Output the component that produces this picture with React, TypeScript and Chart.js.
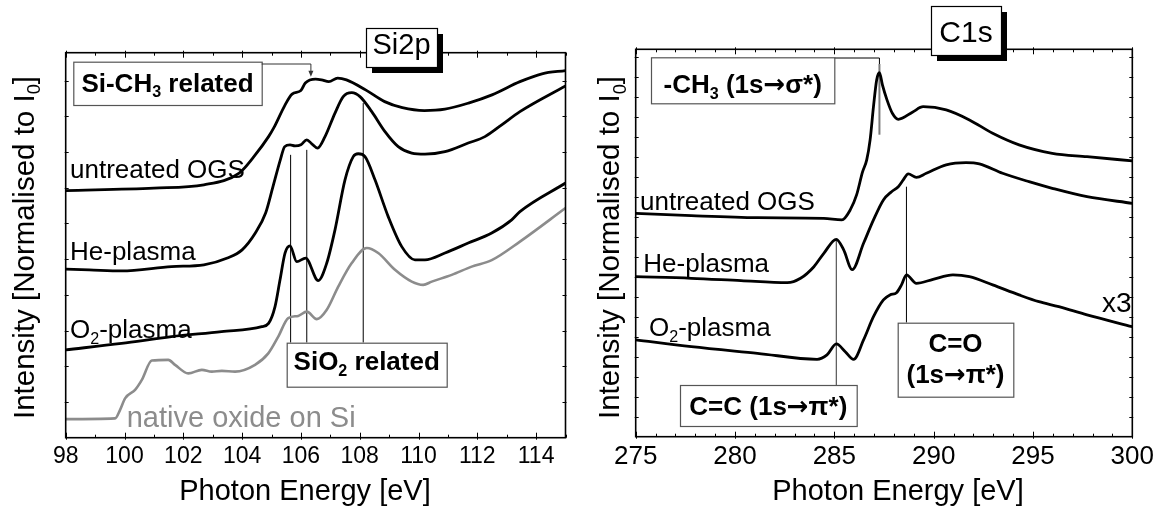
import React, { useEffect, useRef } from "react";
import { Chart, registerables } from "chart.js";

Chart.register(...registerables);

const FONT = '"Liberation Sans", Arial, Helvetica, sans-serif';
const ARROW_FONT = '"DejaVu Sans", "Liberation Sans", sans-serif';

// ---------------- Si2p panel data ----------------
const SI_X_TICKS = [98, 100, 102, 104, 106, 108, 110, 112, 114];
const SI_X_MIN = 98;
const SI_X_MAX = 115;
const SI_Y_MAX = 10.78;

const SI_UNTREATED_E = [98.0, 101.0, 102.7, 103.9, 104.4, 104.9, 105.1, 105.45, 105.7, 106.0, 106.15, 106.5, 106.7, 106.95, 107.25, 107.55, 108.2, 108.85, 109.45, 110.2, 110.9, 111.7, 112.5, 113.45, 114.2, 115.0];
const SI_UNTREATED_I = [6.92, 6.99, 7.08, 7.41, 7.87, 8.43, 8.71, 9.3, 9.62, 9.72, 9.93, 10.04, 10.02, 9.97, 10.07, 10.02, 9.74, 9.41, 9.24, 9.16, 9.2, 9.37, 9.6, 9.97, 10.19, 10.28];

const SI_HE_E = [98.0, 98.8, 99.9, 101.6, 102.7, 103.5, 104.0, 104.45, 104.8, 105.05, 105.3, 105.45, 105.63, 105.8, 106.0, 106.2, 106.37, 106.57, 106.82, 107.16, 107.44, 107.73, 108.01, 108.41, 108.86, 109.31, 109.77, 110.22, 110.9, 111.69, 112.26, 112.83, 113.45, 115.0];
const SI_HE_I = [4.72, 4.7, 4.67, 4.79, 4.84, 5.03, 5.26, 5.73, 6.29, 7.03, 7.78, 8.15, 8.2, 8.17, 8.2, 8.34, 8.23, 8.11, 8.43, 9.09, 9.55, 9.66, 9.55, 9.13, 8.57, 8.15, 7.97, 7.94, 8.01, 8.25, 8.43, 8.76, 9.13, 9.85];

const SI_O2_E = [98.0, 99.9, 101.6, 103.3, 104.67, 104.9, 105.12, 105.29, 105.46, 105.63, 105.86, 106.16, 106.59, 106.88, 107.16, 107.5, 107.78, 107.95, 108.18, 108.52, 108.97, 109.43, 109.88, 110.22, 110.9, 111.69, 112.49, 113.17, 113.45, 115.0];
const SI_O2_I = [2.46, 2.64, 2.83, 2.97, 3.11, 3.2, 3.67, 4.42, 5.17, 5.37, 4.93, 5.03, 4.4, 4.89, 5.82, 7.22, 7.87, 7.95, 7.87, 7.22, 6.19, 5.35, 4.98, 4.98, 5.17, 5.45, 5.73, 6.1, 6.33, 7.13];

const SI_NATIVE_E = [98.0, 99.68, 99.85, 100.02, 100.36, 100.59, 100.93, 101.49, 101.72, 102.17, 102.63, 102.97, 103.31, 103.76, 104.44, 104.89, 105.23, 105.57, 105.91, 106.2, 106.54, 106.88, 107.27, 107.73, 108.24, 108.63, 109.2, 109.77, 110.16, 110.45, 111.13, 111.81, 112.49, 113.45, 115.0];
const SI_NATIVE_I = [0.52, 0.54, 0.78, 1.1, 1.34, 1.62, 2.16, 2.18, 2.04, 1.8, 1.9, 1.85, 1.87, 1.85, 2.04, 2.36, 2.83, 3.35, 3.41, 3.53, 3.32, 3.58, 4.23, 4.89, 5.31, 5.17, 4.7, 4.37, 4.28, 4.37, 4.56, 4.79, 4.97, 5.49, 6.43];

// ---------------- C1s panel data ----------------
const C_X_TICKS = [275, 280, 285, 290, 295, 300];
const C_X_MIN = 275;
const C_X_MAX = 300;
const C_Y_MAX = 19.37;

const C_UNTREATED_E = [275, 277.8, 281.13, 284.47, 285.38, 285.8, 286.12, 286.42, 286.63, 286.8, 286.97, 287.13, 287.27, 287.42, 287.65, 287.92, 288.22, 288.95, 289.47, 290.63, 291.8, 292.97, 294.3, 295.97, 297.72, 300];
const C_UNTREATED_I = [11.17, 11.05, 10.95, 10.92, 10.84, 11.34, 12.09, 13.24, 13.84, 14.84, 16.5, 17.84, 18.2, 17.59, 16.84, 16.17, 15.87, 16.24, 16.5, 16.34, 15.84, 15.17, 14.59, 14.17, 14.0, 13.79];

const C_HE_E = [275, 277.8, 280.3, 282.63, 283.3, 283.97, 284.47, 285.1, 285.47, 285.9, 286.47, 286.97, 287.47, 287.88, 288.22, 288.47, 288.72, 289.13, 289.63, 290.63, 291.63, 292.3, 293.47, 294.8, 295.97, 297.72, 300];
const C_HE_I = [8.0, 7.92, 7.8, 7.7, 7.92, 8.5, 9.17, 9.87, 9.34, 8.35, 9.67, 10.84, 11.84, 12.25, 12.5, 12.84, 13.14, 12.97, 13.17, 13.59, 13.7, 13.64, 13.17, 12.75, 12.42, 12.0, 11.67];

const C_O2_E = [275, 277.8, 281.13, 284.13, 284.63, 285.1, 285.55, 285.97, 286.47, 286.97, 287.47, 287.8, 288.13, 288.38, 288.63, 289.13, 289.97, 290.97, 291.8, 292.97, 294.3, 295.3, 296.3, 297.72, 300];
const C_O2_I = [4.84, 4.5, 4.17, 3.87, 4.09, 4.64, 4.25, 3.87, 4.84, 6.0, 6.84, 7.09, 7.2, 7.59, 8.09, 7.67, 7.87, 8.09, 8.0, 7.59, 7.09, 6.75, 6.5, 6.09, 5.5];

// ---------------- drawing helpers ----------------
type Seg = { t: string; sub?: boolean; font?: string };

function segFont(s: Seg, size: number, weight: string) {
  const fs = s.sub ? size * 0.62 : size;
  return `${weight} ${fs}px ${s.font || FONT}`;
}

function richWidth(ctx: CanvasRenderingContext2D, segs: Seg[], size: number, weight: string) {
  let w = 0;
  for (const s of segs) {
    ctx.font = segFont(s, size, weight);
    w += ctx.measureText(s.t).width;
  }
  return w;
}

function drawRich(
  ctx: CanvasRenderingContext2D,
  segs: Seg[],
  x: number,
  y: number,
  size: number,
  opts: { weight?: string; color?: string; align?: "left" | "center" | "right" } = {}
) {
  const weight = opts.weight || "normal";
  const w = richWidth(ctx, segs, size, weight);
  let cx = opts.align === "center" ? x - w / 2 : opts.align === "right" ? x - w : x;
  ctx.save();
  ctx.fillStyle = opts.color || "#000";
  ctx.textBaseline = "alphabetic";
  ctx.textAlign = "left";
  for (const s of segs) {
    ctx.font = segFont(s, size, weight);
    ctx.fillText(s.t, cx, s.sub ? y + size * 0.22 : y);
    cx += ctx.measureText(s.t).width;
  }
  ctx.restore();
}

function drawBox(ctx: CanvasRenderingContext2D, x0: number, y0: number, x1: number, y1: number, stroke: string, shadow = false) {
  ctx.save();
  if (shadow) {
    ctx.fillStyle = "#000";
    ctx.fillRect(x0 + 6, y0 + 6, x1 - x0, y1 - y0);
  }
  ctx.fillStyle = "#fff";
  ctx.fillRect(x0, y0, x1 - x0, y1 - y0);
  ctx.strokeStyle = stroke;
  ctx.lineWidth = 1.2;
  ctx.strokeRect(x0 + 0.5, y0 + 0.5, x1 - x0, y1 - y0);
  ctx.restore();
}

function drawLine(ctx: CanvasRenderingContext2D, pts: number[][], color: string, width: number) {
  ctx.save();
  ctx.strokeStyle = color;
  ctx.lineWidth = width;
  ctx.beginPath();
  pts.forEach((p, i) => (i === 0 ? ctx.moveTo(p[0], p[1]) : ctx.lineTo(p[0], p[1])));
  ctx.stroke();
  ctx.restore();
}

function drawFrame(chart: any, majors: number[], yStep: number) {
  const { ctx, chartArea: a, scales } = chart;
  const xs = scales.x;
  const ys = scales.y;
  ctx.save();
  ctx.strokeStyle = "#000";
  ctx.lineWidth = 1;
  ctx.beginPath();
  for (let v = xs.min; v <= xs.max + 1e-9; v += 1) {
    const px = Math.round(xs.getPixelForValue(v)) + 0.5;
    const major = majors.includes(Math.round(v));
    const L = major ? 5 : 3;
    ctx.moveTo(px, a.bottom + (major ? 2 : 0));
    ctx.lineTo(px, a.bottom - L);
    ctx.moveTo(px, a.top - (major ? 2 : 0));
    ctx.lineTo(px, a.top + L);
  }
  for (let v = ys.min + yStep; v < ys.max - 0.05; v += yStep) {
    const py = Math.round(ys.getPixelForValue(v)) + 0.5;
    ctx.moveTo(a.left - 1, py);
    ctx.lineTo(a.left + 3, py);
    ctx.moveTo(a.right + 1, py);
    ctx.lineTo(a.right - 3, py);
  }
  ctx.stroke();
  ctx.lineWidth = 1.6;
  ctx.strokeRect(a.left, a.top, a.right - a.left, a.bottom - a.top);
  ctx.restore();
}

function drawYTitle(ctx: CanvasRenderingContext2D, baseX: number, centerY: number) {
  ctx.save();
  ctx.translate(baseX, centerY);
  ctx.rotate(-Math.PI / 2);
  drawRich(ctx, [{ t: "Intensity [Normalised to I" }, { t: "0", sub: true }, { t: "]" }], 0, 0, 29.5, { align: "center" });
  ctx.restore();
}

function series(e: number[], v: number[], color: string, width = 2.8) {
  return {
    data: e.map((x, i) => ({ x, y: v[i] })),
    borderColor: color,
    borderWidth: width,
    pointRadius: 0,
    fill: false,
    cubicInterpolationMode: "monotone" as const,
  };
}

function baseOptions(xmin: number, xmax: number, ymax: number, ticks: number[], tickSize: number, pad: any, axisH: number) {
  return {
    responsive: false,
    animation: false as const,
    events: [] as any[],
    layout: { padding: pad },
    plugins: { legend: { display: false }, tooltip: { enabled: false } },
    scales: {
      x: {
        type: "linear" as const,
        min: xmin,
        max: xmax,
        afterBuildTicks: (s: any) => {
          s.ticks = ticks.map((v) => ({ value: v }));
        },
        afterFit: (s: any) => {
          s.height = axisH;
        },
        grid: { display: false, drawTicks: false },
        border: { display: false },
        ticks: {
          autoSkip: false,
          maxRotation: 0,
          padding: 5,
          color: "#000",
          font: { family: FONT, size: tickSize },
          callback: (v: any) => String(v),
        },
      },
      y: { type: "linear" as const, display: false, min: 0, max: ymax },
    },
  };
}

// ---------------- Si2p panel ----------------
const SI_BOX_TOP = 342.7;

const siPlugin = {
  id: "siDecor",
  beforeDatasetsDraw(chart: any) {
    const { ctx, scales } = chart;
    const x = scales.x;
    const y = scales.y;
    drawLine(ctx, [[x.getPixelForValue(105.65), y.getPixelForValue(7.92)], [x.getPixelForValue(105.65), SI_BOX_TOP]], "#000", 1);
    drawLine(ctx, [[x.getPixelForValue(106.2), y.getPixelForValue(8.06)], [x.getPixelForValue(106.2), SI_BOX_TOP]], "#000", 1);
    drawLine(ctx, [[x.getPixelForValue(108.12), y.getPixelForValue(9.37)], [x.getPixelForValue(108.12), SI_BOX_TOP]], "#000", 1);
  },
  afterDatasetsDraw(chart: any) {
    const { ctx, scales } = chart;
    const x = scales.x;
    const y = scales.y;
    drawFrame(chart, SI_X_TICKS, 1);

    drawBox(ctx, 366, 28, 437, 67, "#000", true);
    drawRich(ctx, [{ t: "Si2p" }], 401.5, 53.5, 29, { align: "center" });

    drawBox(ctx, 73.3, 61.7, 261.7, 105, "#555");
    drawRich(ctx, [{ t: "Si-CH" }, { t: "3", sub: true }, { t: " related" }], 167.5, 91.7, 26, { weight: "bold", align: "center" });

    const ax = x.getPixelForValue(106.34);
    const ay = y.getPixelForValue(10.11);
    drawLine(ctx, [[261.7, 64], [ax, 64], [ax, ay - 5]], "#333", 1);
    ctx.save();
    ctx.fillStyle = "#333";
    ctx.beginPath();
    ctx.moveTo(ax - 2.5, ay - 6);
    ctx.lineTo(ax + 2.5, ay - 6);
    ctx.lineTo(ax, ay);
    ctx.closePath();
    ctx.fill();
    ctx.restore();

    drawBox(ctx, 286.7, SI_BOX_TOP, 446.7, 386.7, "#555");
    drawRich(ctx, [{ t: "SiO" }, { t: "2", sub: true }, { t: " related" }], 366.7, 370, 26, { weight: "bold", align: "center" });

    drawRich(ctx, [{ t: "untreated OGS" }], 70, 178.3, 26);
    drawRich(ctx, [{ t: "He-plasma" }], 70, 260, 26);
    drawRich(ctx, [{ t: "O" }, { t: "2", sub: true }, { t: "-plasma" }], 70, 338, 26);
    drawRich(ctx, [{ t: "native oxide on Si" }], 126.7, 426.7, 29, { color: "#8c8c8c" });

    drawYTitle(ctx, 33.8, 247.5);
    drawRich(ctx, [{ t: "Photon Energy [eV]" }], 305, 500, 29, { align: "center" });
  },
};

function buildSi() {
  return {
    type: "line" as const,
    data: {
      datasets: [
        series(SI_UNTREATED_E, SI_UNTREATED_I, "#000"),
        series(SI_HE_E, SI_HE_I, "#000"),
        series(SI_O2_E, SI_O2_I, "#000"),
        series(SI_NATIVE_E, SI_NATIVE_I, "#8c8c8c", 2.6),
      ],
    },
    options: baseOptions(SI_X_MIN, SI_X_MAX, SI_Y_MAX, SI_X_TICKS, 23, { left: 65.7, top: 52.7, right: 594 - 565.5, bottom: 0 }, 508 - 437.7),
    plugins: [siPlugin],
  };
}

// ---------------- C1s panel ----------------
const OX = 594; // page x of the right canvas

const cPlugin = {
  id: "cDecor",
  beforeDatasetsDraw(chart: any) {
    const { ctx, scales } = chart;
    const x = scales.x;
    const y = scales.y;
    const xc = x.getPixelForValue(287.27);
    drawLine(ctx, [[834.3 - OX, 58], [xc, 58], [xc, 64]], "#000", 1);
    drawLine(ctx, [[xc, 64], [xc, y.getPixelForValue(15.1)]], "#7a7a7a", 2);
    const xcc = x.getPixelForValue(285.1);
    drawLine(ctx, [[xcc, y.getPixelForValue(9.83)], [xcc, 385]], "#555", 1.2);
    const xco = x.getPixelForValue(288.63);
    drawLine(ctx, [[xco, y.getPixelForValue(12.5)], [xco, 322.7]], "#000", 1);
  },
  afterDatasetsDraw(chart: any) {
    const { ctx } = chart;
    drawFrame(chart, C_X_TICKS, 1);

    drawBox(ctx, 931 - OX, 6, 1001 - OX, 55, "#000", true);
    drawRich(ctx, [{ t: "C1s" }], 966 - OX, 41.7, 30, { align: "center" });

    const ARROW: Seg = { t: "\u2192", font: ARROW_FONT };
    drawBox(ctx, 651 - OX, 57.3, 834.3 - OX, 103.3, "#555");
    drawRich(ctx, [{ t: "-CH" }, { t: "3", sub: true }, { t: " (1s" }, ARROW, { t: "\u03c3*)" }], 742.7 - OX, 93, 26, { weight: "bold", align: "center" });

    drawBox(ctx, 680 - OX, 385, 856.7 - OX, 426, "#555");
    drawRich(ctx, [{ t: "C=C (1s" }, ARROW, { t: "\u03c0*)" }], 768.3 - OX, 415, 26, { weight: "bold", align: "center" });

    drawBox(ctx, 897.7 - OX, 322.7, 1013.3 - OX, 396.7, "#555");
    drawRich(ctx, [{ t: "C=O" }], 955.5 - OX, 351.7, 26, { weight: "bold", align: "center" });
    drawRich(ctx, [{ t: "(1s" }, ARROW, { t: "\u03c0*)" }], 955.5 - OX, 383, 26, { weight: "bold", align: "center" });

    drawRich(ctx, [{ t: "untreated OGS" }], 640 - OX, 210, 26);
    drawRich(ctx, [{ t: "He-plasma" }], 643.3 - OX, 271.7, 26);
    drawRich(ctx, [{ t: "O" }, { t: "2", sub: true }, { t: "-plasma" }], 649 - OX, 336, 26);
    drawRich(ctx, [{ t: "x3" }], 1102 - OX, 311.7, 28);

    drawYTitle(ctx, 619.4 - OX, 247.5);
    drawRich(ctx, [{ t: "Photon Energy [eV]" }], 898 - OX, 500, 29, { align: "center" });
  },
};

function buildC() {
  return {
    type: "line" as const,
    data: {
      datasets: [
        series(C_UNTREATED_E, C_UNTREATED_I, "#000"),
        series(C_HE_E, C_HE_I, "#000"),
        series(C_O2_E, C_O2_I, "#000"),
      ],
    },
    options: baseOptions(C_X_MIN, C_X_MAX, C_Y_MAX, C_X_TICKS, 26, { left: 635.7 - OX, top: 49.3, right: 565 - (1135.7 - OX), bottom: 0 }, 508 - 436.7),
    plugins: [cPlugin],
  };
}

export default function App() {
  const leftRef = useRef<HTMLCanvasElement>(null);
  const rightRef = useRef<HTMLCanvasElement>(null);

  useEffect(() => {
    const c1 = new Chart(leftRef.current as HTMLCanvasElement, buildSi() as any);
    const c2 = new Chart(rightRef.current as HTMLCanvasElement, buildC() as any);
    return () => {
      c1.destroy();
      c2.destroy();
    };
  }, []);

  return (
    <div style={{ position: "fixed", left: 0, top: 0, width: 1159, height: 508, background: "#fff", overflow: "hidden" }}>
      <canvas ref={leftRef} width={594} height={508} style={{ position: "absolute", left: 0, top: 0 }} />
      <canvas ref={rightRef} width={565} height={508} style={{ position: "absolute", left: OX, top: 0 }} />
    </div>
  );
}
